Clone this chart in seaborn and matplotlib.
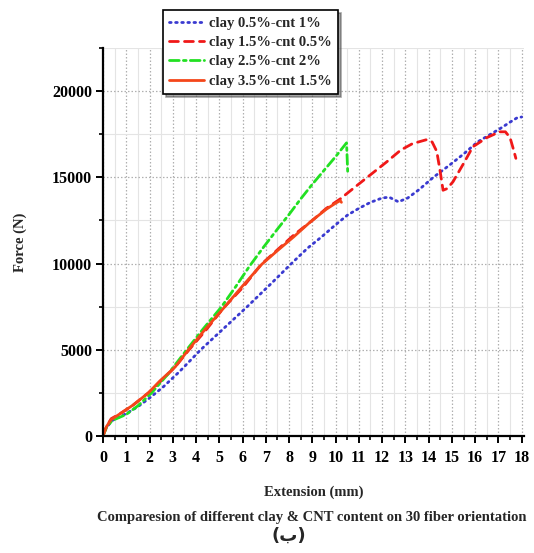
import numpy as np
import pandas as pd
import matplotlib
matplotlib.use("Agg")
import matplotlib.pyplot as plt
from matplotlib.ticker import MultipleLocator
import seaborn as sns

# Force-extension curves (Extension in mm, Force in N)
blue_x = [0, 0.15, 0.4, 1, 1.5, 2, 2.6, 3.3, 4.2, 5.2, 6.2, 7.2, 8.1, 8.8, 9.4,
          10, 10.5, 11, 11.5, 12, 12.3, 12.7, 13.1, 13.6, 14.2, 14.9, 15.5,
          16.1, 16.6, 17.1, 17.5, 17.8, 18.0]
blue_y = [0, 500, 900, 1300, 1700, 2200, 2860, 3750, 5000, 6250, 7500, 8800,
          10000, 10900, 11550, 12250, 12800, 13200, 13550, 13800, 13850, 13580,
          13800, 14300, 15000, 15710, 16350, 17050, 17450, 17850, 18200, 18450,
          18500]

red_x = [0, 0.15, 0.35, 0.8, 1.3, 1.95, 2.5, 3.1, 3.7, 4.4, 5.2, 6, 6.8, 7.5,
         8.2, 9, 9.6, 10.2, 10.8, 11.5, 12.2, 12.8, 13.3, 13.9, 14.15, 14.35,
         14.5, 14.62, 14.8, 15.05, 15.5, 15.9, 16.5, 17.05, 17.3, 17.5, 17.65,
         17.75]
red_y = [0, 550, 1000, 1350, 1800, 2500, 3200, 4000, 5000, 6100, 7450, 8600,
         9950, 10800, 11650, 12500, 13200, 13750, 14400, 15150, 15900, 16580,
         16950, 17180, 17050, 16500, 15300, 14250, 14350, 14750, 15800, 16770,
         17300, 17640, 17640, 17300, 16600, 16100]

green_x = [0, 0.15, 0.4, 1, 1.5, 2.09, 2.8, 3.6, 4.3, 5.1, 5.7, 6.3, 6.9, 7.5,
           8, 8.5, 9, 9.5, 10, 10.47, 10.5, 10.52]
green_y = [0, 500, 900, 1250, 1750, 2500, 3600, 5000, 6200, 7500, 8650, 9850,
           10950, 12000, 12850, 13750, 14600, 15400, 16200, 17000, 16000, 15300]

orange_x = [0, 0.15, 0.35, 0.8, 1.3, 1.95, 2.45, 3.1, 3.67, 4.4, 5.24, 6, 6.82,
            7.5, 8.2, 8.9, 9.6, 10.0, 10.2, 10.25]
orange_y = [0, 550, 950, 1350, 1800, 2500, 3200, 4000, 5000, 6200, 7500, 8700,
            9950, 10750, 11550, 12400, 13150, 13500, 13650, 13550]

labels = ["clay 0.5%-cnt 1%", "clay 1.5%-cnt 0.5%",
          "clay 2.5%-cnt 2%", "clay 3.5%-cnt 1.5%"]

sns.set_style("white")
plt.rcParams["font.family"] = ["Liberation Serif", "DejaVu Sans"]
plt.rcParams["font.weight"] = "bold"

fig = plt.figure(figsize=(5.34, 5.53), dpi=100)
ax = fig.add_axes([0.1929, 0.2116, 0.7884, 0.7016])

series = [
    (blue_x, blue_y, "#3a3ad0", (0, (0.6, 1.6)), labels[0]),
    (red_x, red_y, "#f01818", (0, (3.2, 2.2)), labels[1]),
    (green_x, green_y, "#22e022", (0, (3.5, 1.5, 1, 1.5)), labels[2]),
    (orange_x, orange_y, "#f4461a", "-", labels[3]),
]
for xs, ys, col, ls, lab in series:
    df = pd.DataFrame({"Extension": xs, "Force": ys})
    sns.lineplot(data=df, x="Extension", y="Force", ax=ax, color=col,
                 linestyle=ls, linewidth=2.0, sort=False, estimator=None,
                 label=lab, dash_capstyle="round")

ax.set_xlim(0, 18.1)
ax.set_ylim(0, 22500)
ax.xaxis.set_major_locator(MultipleLocator(1))
ax.xaxis.set_minor_locator(MultipleLocator(0.5))
ax.yaxis.set_major_locator(MultipleLocator(5000))
ax.yaxis.set_minor_locator(MultipleLocator(2500))

ax.grid(True, which="major", color="#b0b0b0", linestyle=(0, (1.2, 1.6)),
        linewidth=0.9)
ax.grid(True, which="minor", color="#e4e4e4", linestyle="-", linewidth=0.8)
ax.set_axisbelow(True)

for s in ["top", "right"]:
    ax.spines[s].set_visible(False)
for s in ["left", "bottom"]:
    ax.spines[s].set_color("black")
    ax.spines[s].set_linewidth(1.6)

ax.tick_params(which="major", direction="out", length=5, width=1.4,
               colors="black", labelsize=11.5, pad=3, left=True, bottom=True)
ax.tick_params(which="minor", direction="out", length=3, width=1.2,
               colors="black", left=True, bottom=True)
ax.tick_params(axis="x", which="major", pad=5)
for t in ax.get_xticklabels() + ax.get_yticklabels():
    t.set_fontweight("bold")

ax.set_xlabel("Extension (mm)", fontsize=10.5, fontweight="bold", labelpad=14)
ax.set_ylabel("Force (N)", fontsize=10.5, fontweight="bold", labelpad=18)

leg = ax.legend(loc="upper left", bbox_to_anchor=(0.305, 0.982),
                bbox_transform=fig.transFigure, frameon=True, fancybox=False,
                shadow=True, fontsize=10.5, handlelength=2.4,
                handletextpad=0.3, labelspacing=0.42, borderpad=0.45,
                borderaxespad=0)
leg.get_frame().set_edgecolor("black")
leg.get_frame().set_linewidth(1.2)
for t in leg.get_texts():
    t.set_fontweight("bold")

fig.text(0.584, 0.065,
         "Comparesion of different clay & CNT content on 30 fiber orientation",
         ha="center", va="center", fontsize=10.5, fontweight="bold")
fig.text(0.541, 0.032, "(ب)", ha="center", va="center", fontsize=13,
         fontweight="bold", family=["DejaVu Sans"])

fig.savefig("out.png", dpi=100)
